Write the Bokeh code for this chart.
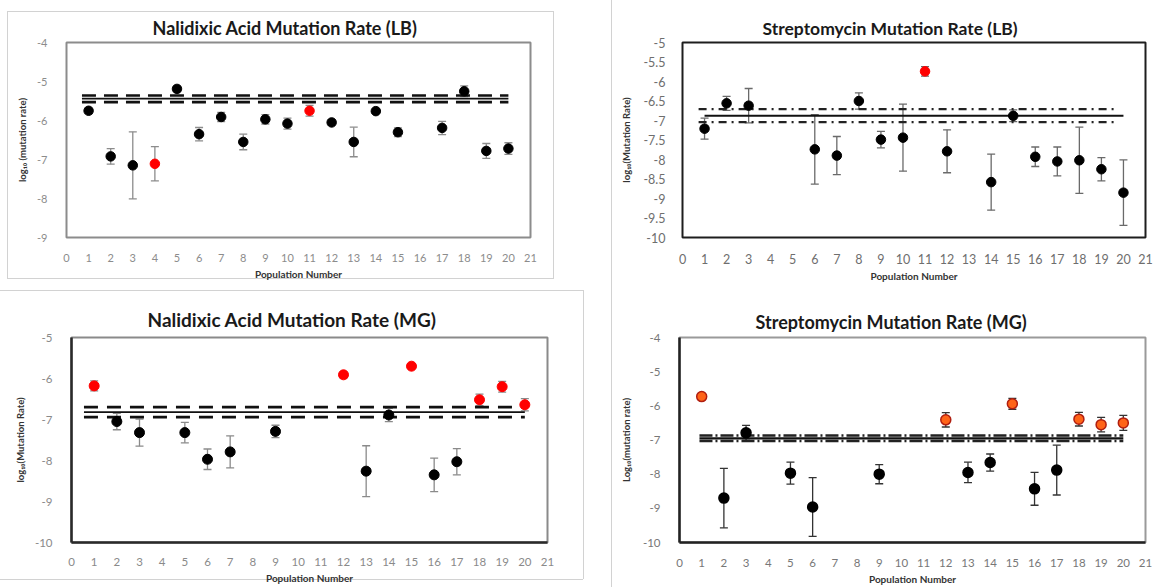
from bokeh.plotting import figure
from bokeh.layouts import column, row
from bokeh.models import Range1d, FixedTicker, ColumnDataSource, Whisker, TeeHead
from bokeh.embed import file_html
from bokeh.resources import INLINE

# ---------------- data ----------------
populations_ticks = list(range(0, 22))

# Nalidixic acid, LB
na_lb_pop = [1, 2, 3, 4, 5, 6, 7, 8, 9, 10, 11, 12, 13, 14, 15, 17, 18, 19, 20]
na_lb_rate = [-5.75, -6.92, -7.15, -7.11, -5.19, -6.35, -5.91, -6.55, -5.97, -6.08,
              -5.75, -6.05, -6.55, -5.76, -6.30, -6.19, -5.25, -6.78, -6.72]
na_lb_err = [0.07, 0.20, 0.86, 0.44, 0.07, 0.17, 0.12, 0.20, 0.12, 0.14,
             0.14, 0.07, 0.38, 0.05, 0.11, 0.17, 0.14, 0.19, 0.15]
na_lb_high = [4, 11]
na_lb_mean = -5.44
na_lb_ci = [-5.36, -5.53]
na_lb_line_x = [0.7, 20]

# Streptomycin, LB
sm_lb_pop = [1, 2, 3, 6, 7, 8, 9, 10, 11, 12, 14, 15, 16, 17, 18, 19, 20]
sm_lb_rate = [-7.21, -6.56, -6.62, -7.74, -7.90, -6.50, -7.49, -7.44, -5.74, -7.79,
              -8.58, -6.88, -7.93, -8.05, -8.02, -8.25, -8.85]
sm_lb_err = [0.27, 0.18, 0.44, 0.89, 0.49, 0.21, 0.21, 0.86, 0.12, 0.55,
             0.72, 0.15, 0.25, 0.37, 0.85, 0.30, 0.84]
sm_lb_high = [11]
sm_lb_mean = -6.88
sm_lb_ci = [-6.71, -7.04]
sm_lb_line_x = [1, 20]
sm_lb_ci_x = [0.73, 19.7]

# Nalidixic acid, MG
na_mg_pop = [1, 2, 3, 5, 6, 7, 9, 12, 13, 14, 15, 16, 17, 18, 19, 20]
na_mg_rate = [-6.18, -7.05, -7.32, -7.32, -7.97, -7.79, -7.29, -5.91, -8.26, -6.89,
              -5.70, -8.35, -8.03, -6.52, -6.20, -6.64]
na_mg_err = [0.12, 0.20, 0.33, 0.25, 0.25, 0.39, 0.15, 0.08, 0.62, 0.16,
             0.06, 0.41, 0.32, 0.14, 0.13, 0.15]
na_mg_high = [1, 12, 15, 18, 19, 20]
na_mg_mean = -6.82
na_mg_ci = [-6.70, -6.94]
na_mg_line_x = [0.55, 20]

# Streptomycin, MG
sm_mg_pop = [1, 2, 3, 5, 6, 9, 12, 13, 14, 15, 16, 17, 18, 19, 20]
sm_mg_rate = [-5.73, -8.70, -6.79, -7.97, -8.96, -8.00, -6.41, -7.95, -7.66, -5.94,
              -8.43, -7.88, -6.39, -6.55, -6.50]
sm_mg_err = [0.05, 0.87, 0.22, 0.32, 0.86, 0.28, 0.21, 0.30, 0.25, 0.16,
             0.48, 0.73, 0.20, 0.21, 0.22]
sm_mg_high = [1, 12, 15, 18, 19, 20]
sm_mg_mean = -6.95
sm_mg_ci = [-6.87, -7.03]
sm_mg_line_x = [0.9, 20]

FONT = "Lato"
FRAME = "#d2d2d2"


def seg(x, y, w, h):
    return "linear-gradient(%s,%s) %dpx %dpx / %dpx %dpx no-repeat" % (FRAME, FRAME, x, y, w, h)


def make_panel(title, ylabel, pops, rates, errs, high, ylo, yhi, yticks, w, h,
               borders, title_size, title_offset, title_standoff, tick_color, tick_size,
               outline_color, axis_color, err_color, hi_fill, hi_line,
               ylab_standoff, ytick_standoff, xtick_standoff, bg):
    bl, bt, br, bb = borders
    p = figure(width=w, height=h, x_range=Range1d(0, 21), y_range=Range1d(ylo, yhi),
               output_backend="svg", toolbar_location=None,
               min_border_left=bl, min_border_top=bt, min_border_right=br,
               min_border_bottom=bb, title=title)
    p.border_fill_color = None
    p.background_fill_color = "white"
    if bg:
        p.styles = {"background": ", ".join(bg)}
    p.title.text_font = FONT
    p.title.text_font_style = "bold"
    p.title.text_font_size = title_size
    p.title.text_color = "#1a1a1a"
    p.title.align = "left"
    p.title.offset = title_offset
    p.title.standoff = title_standoff
    p.xgrid.visible = False
    p.ygrid.visible = False
    p.outline_line_color = outline_color
    p.outline_line_width = 2

    for ax in (p.xaxis[0], p.yaxis[0]):
        ax.major_tick_line_color = None
        ax.minor_tick_line_color = None
        ax.axis_line_color = axis_color
        ax.axis_line_width = 2.5
        ax.major_label_text_font = FONT
        ax.major_label_text_color = tick_color
        ax.major_label_text_font_size = tick_size
        ax.axis_label_text_font = FONT
        ax.axis_label_text_font_style = "bold"
        ax.axis_label_text_color = "#333333"
    p.xaxis.axis_label_text_font_size = "10px"
    p.yaxis.axis_label_text_font_size = "9.5px"

    p.xaxis.ticker = FixedTicker(ticks=populations_ticks)
    p.xaxis.axis_label = "Population Number"
    p.xaxis.major_label_standoff = xtick_standoff
    p.xaxis.axis_label_standoff = 3
    p.yaxis.ticker = FixedTicker(ticks=yticks)
    p.yaxis.major_label_overrides = {t: ("%g" % t) for t in yticks}
    p.yaxis.axis_label = ylabel
    p.yaxis.major_label_standoff = ytick_standoff
    p.yaxis.axis_label_standoff = ylab_standoff

    colors = [hi_fill if x in high else "black" for x in pops]
    lcolors = [hi_line if x in high else "black" for x in pops]
    src = ColumnDataSource(dict(
        x=pops, y=rates,
        upper=[r + e for r, e in zip(rates, errs)],
        lower=[r - e for r, e in zip(rates, errs)],
        fill=colors, line=lcolors))
    wk = Whisker(source=src, base="x", upper="upper", lower="lower",
                 line_color=err_color, line_width=1.3,
                 upper_head=TeeHead(size=8, line_color=err_color, line_width=1.3),
                 lower_head=TeeHead(size=8, line_color=err_color, line_width=1.3))
    p.add_layout(wk)
    return p, src


def add_points(p, src, size=9, lw=1.0):
    p.scatter("x", "y", source=src, size=size, fill_color="fill",
              line_color="line", line_width=lw)


# Panel 1
p1, s1 = make_panel("Nalidixic Acid Mutation Rate (LB)", "log\u2081\u2080 (mutation rate)",
                    na_lb_pop, na_lb_rate, na_lb_err, na_lb_high, -9, -4,
                    [-9, -8, -7, -6, -5, -4], 611, 290, (66, 42, 81, 51), "18px", 86, 7,
                    "#8c8c8c", "11px", "#8c8c8c", None, "#8c8c8c", "#ff0000", "#ff0000",
                    6, 13, 10,
                    [seg(7, 11, 547, 1), seg(7, 278, 547, 1), seg(7, 11, 1, 268),
                     seg(553, 11, 1, 268)])
for yv in na_lb_ci:
    p1.line(na_lb_line_x, [yv, yv], line_color="#111111", line_width=2.6, line_dash="14 8")
p1.line(na_lb_line_x, [na_lb_mean, na_lb_mean], line_color="#111111", line_width=1.6)
add_points(p1, s1, size=9.5)

# Panel 2
sm_ticks = [-10, -9.5, -9, -8.5, -8, -7.5, -7, -6.5, -6, -5.5, -5]
p2, s2 = make_panel("Streptomycin Mutation Rate (LB)", "log\u2081\u2080(Mutation Rate)",
                    sm_lb_pop, sm_lb_rate, sm_lb_err, sm_lb_high, -10, -5, sm_ticks,
                    542, 290, (71, 42, 8, 53), "17.5px", 80, 7,
                    "#6e6e6e", "12.5px", "#1e1e1e", None, "#6a6a6a", "#ff0000", "#ff0000",
                    8, 11, 10, [seg(0, 0, 1, 290)])
for yv in sm_lb_ci:
    p2.line(sm_lb_ci_x, [yv, yv], line_color="#222222", line_width=2.2, line_dash="8 5 2 5")
p2.line(sm_lb_line_x, [sm_lb_mean, sm_lb_mean], line_color="#111111", line_width=2)
add_points(p2, s2, size=9.5)

# Panel 3
p3, s3 = make_panel("Nalidixic Acid Mutation Rate (MG)", "log\u2081\u2080(Mutation Rate)",
                    na_mg_pop, na_mg_rate, na_mg_err, na_mg_high, -10, -5,
                    [-10, -9, -8, -7, -6, -5], 611, 297, (71, 47, 64, 43), "19px", 76, 14,
                    "#8a8a8a", "11.5px", "#8a8a8a", "#2a2a2a", "#8a8a8a", "#ff0000", "#ff0000",
                    6, 13, 9,
                    [seg(0, 0, 583, 1), seg(0, 289, 583, 1), seg(583, 0, 1, 289)])
for yv in na_mg_ci:
    p3.line(na_mg_line_x, [yv, yv], line_color="#111111", line_width=2.8, line_dash="14 9")
p3.line(na_mg_line_x, [na_mg_mean, na_mg_mean], line_color="#111111", line_width=1.8)
add_points(p3, s3, size=10)

# Panel 4
p4, s4 = make_panel("Streptomycin Mutation Rate (MG)", "Log\u2081\u2080(mutation rate)",
                    sm_mg_pop, sm_mg_rate, sm_mg_err, sm_mg_high, -10, -4,
                    [-10, -9, -8, -7, -6, -5, -4], 542, 297, (68, 47, 8, 37), "18px", 76, 10,
                    "#777777", "11.5px", "#9a9a9a", "#222222", "#333333", "#ff6418", "#b01e10",
                    8, 13, 10, [seg(0, 0, 1, 297)])
for yv in sm_mg_ci:
    p4.line(sm_mg_line_x, [yv, yv], line_color="#222222", line_width=2.6, line_dash="13 3 2 3")
p4.line(sm_mg_line_x, [sm_mg_mean, sm_mg_mean], line_color="#111111", line_width=2.2)
add_points(p4, s4, size=10, lw=1.5)

layout = column(row(p1, p2), row(p3, p4))
open("out.html", "w").write(file_html(layout, INLINE))
